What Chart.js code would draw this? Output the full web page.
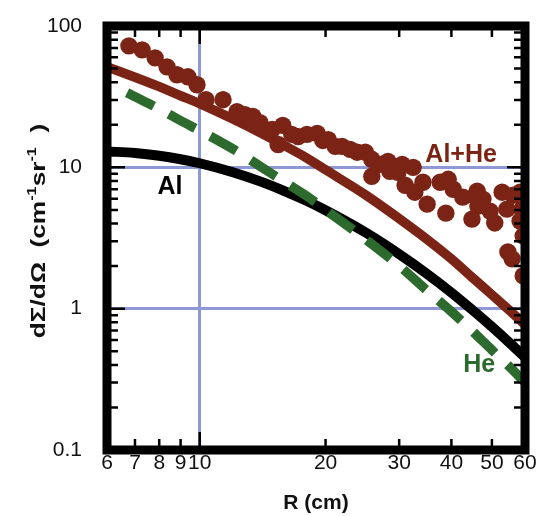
<!DOCTYPE html>
<html><head><meta charset="utf-8">
<script src="https://cdn.jsdelivr.net/npm/chart.js@4/dist/chart.umd.min.js"></script>
<style>html,body{margin:0;padding:0;background:#fff}#wrap{width:544px;height:516px}</style>
</head><body><div id="wrap"><canvas id="c" width="544" height="516"></canvas></div>
<script>
// ---- data ----
const R_MODEL = [6,7,8,9,10,12,14,16,18,20,25,30,35,40,45,50,55,60];
const AL      = [12.96,12.64,12.09,11.41,10.69,9.24,7.92,6.77,5.80,4.97,3.44,2.43,1.76,1.30,0.974,0.744,0.576,0.452];
const AL_HE   = [51.4,43.4,37.2,32.1,28.2,21.95,17.5,14.17,11.67,9.60,6.35,4.34,3.09,2.25,1.65,1.255,0.976,0.771];
const R_HE    = [6.7,7,8,9,10,12,14,16,18,20,25,30,35,40,45,50,55,60];
const HE      = [33.7,31.6,25.9,21.4,18.2,13.5,10.1,7.84,6.28,5.0,3.08,2.01,1.34,0.953,0.69,0.51,0.39,0.30];
const R_DATA  = [6.77,7.28,7.82,8.35,8.82,9.37,9.85,10.35,11.37,12.28,12.83,13.4,13.94,14.9,15.4,15.8,16.6,17.2,18.05,19.1,19.7,20.3,21.1,21.9,22.9,23.8,24.9,25.8,25.8,27.0,28.2,28.5,29.8,30.5,31.0,32.4,32.7,34.2,35.0,37.6,38.8,39.3,40.4,42.6,44.8,45.5,46.1,46.3,47.6,49.5,50.8,52.9,54.3,56.2,58.4,59.0,58.4,59.4,54.6,55.9,59.4];
const Y_DATA  = [72.3,67.8,59.5,51.4,45.2,43.7,38.4,30.1,30.1,24.8,23.6,22.9,20.7,18.5,14.5,19.8,17.1,16.5,17.1,17.4,15.5,15.7,14.06,14.06,13.4,12.8,12.8,11.4,8.64,10.5,11.0,9.37,9.22,10.5,7.47,10.0,6.67,7.84,5.49,7.84,4.74,8.23,7.0,6.15,4.30,6.25,6.78,5.31,5.96,4.90,4.04,6.67,5.06,6.35,6.67,5.06,4.17,3.27,2.52,2.25,1.71];
const X_TICKS = [6,7,8,9,10,20,30,40,50,60];
const Y_TICKS = [0.1,1,10,100];
const Y_MINOR = [0.2,0.3,0.4,0.5,0.6,0.7,0.8,0.9,2,3,4,5,6,7,8,9,20,30,40,50,60,70,80,90];
const X_GRID = [10];
const Y_GRID = [1,10];
const SERIES_LABELS = [
  {text:'Al+He', x:42.2, y:12.3, color:'#7b2416'},
  {text:'Al',    x:8.49, y:7.23, color:'#000000'},
  {text:'He',    x:46.6, y:0.397, color:'#2c6a2e'}
];

// ---- style ----
const RED = '#7b2416', GREEN = '#2c6a2e', BLUE = '#8d98d4';
const FAM = "'Liberation Sans', Arial, Helvetica, sans-serif";

const framePlugin = {
  id: 'frame',
  afterDatasetsDraw(chart) {
    const {ctx, chartArea: a, scales: {x, y}} = chart;
    ctx.save();
    ctx.strokeStyle = '#000';
    ctx.lineWidth = 2.5;
    ctx.beginPath();
    X_TICKS.slice(1, -1).forEach(v => {
      const px = x.getPixelForValue(v);
      const len = (v === 10) ? 18 : 11;
      ctx.moveTo(px, a.bottom); ctx.lineTo(px, a.bottom - len);
      ctx.moveTo(px, a.top); ctx.lineTo(px, a.top + len);
    });
    Y_MINOR.forEach(v => {
      const py = y.getPixelForValue(v);
      ctx.moveTo(a.left, py); ctx.lineTo(a.left + 11, py);
      ctx.moveTo(a.right, py); ctx.lineTo(a.right - 11, py);
    });
    Y_TICKS.slice(1, -1).forEach(v => {
      const py = y.getPixelForValue(v);
      ctx.moveTo(a.left, py); ctx.lineTo(a.left + 18, py);
      ctx.moveTo(a.right, py); ctx.lineTo(a.right - 18, py);
    });
    ctx.stroke();
    ctx.lineWidth = 9;
    ctx.strokeRect(a.left, a.top, a.right - a.left, a.bottom - a.top);
    ctx.font = 'bold 25px ' + FAM;
    ctx.textAlign = 'center';
    ctx.textBaseline = 'middle';
    SERIES_LABELS.forEach(l => {
      ctx.fillStyle = l.color;
      ctx.fillText(l.text, x.getPixelForValue(l.x), y.getPixelForValue(l.y));
    });
    ctx.restore();
  }
};

const yTitlePlugin = {
  id: 'yTitle',
  afterDraw(chart) {
    const ctx = chart.ctx;
    const segs = [
      {t: 'd\u03A3/d\u03A9  (cm', sup: false},
      {t: '-1', sup: true},
      {t: 'sr', sup: false},
      {t: '-1', sup: true},
      {t: '  )', sup: false}
    ];
    const mainF = 'bold 21px ' + FAM, supF = 'bold 13px ' + FAM;
    ctx.save();
    let W = 0;
    segs.forEach(s => { ctx.font = s.sup ? supF : mainF; s.w = ctx.measureText(s.t).width; W += s.w; });
    const S = 1.25;
    ctx.translate(45, 231);
    ctx.rotate(-Math.PI / 2);
    ctx.scale(S, 1);
    ctx.fillStyle = '#111';
    ctx.textBaseline = 'alphabetic';
    ctx.textAlign = 'left';
    let cx = -W / 2;
    segs.forEach(s => {
      ctx.font = s.sup ? supF : mainF;
      ctx.fillText(s.t, cx, s.sup ? -9 : 0);
      cx += s.w;
    });
    ctx.restore();
  }
};

new Chart(document.getElementById('c'), {
  data: {
    datasets: [
      {type: 'scatter', label: 'data', data: R_DATA.map((v, i) => ({x: v, y: Y_DATA[i]})),
       backgroundColor: RED, borderWidth: 0, pointRadius: 8.7, pointHoverRadius: 8.7, order: 0, clip: 0},
      {type: 'line', label: 'He', data: R_HE.map((v, i) => ({x: v, y: HE[i]})),
       borderColor: GREEN, borderWidth: 9.5, borderDash: [30, 17], pointRadius: 0, cubicInterpolationMode: 'monotone', order: 1, clip: 0},
      {type: 'line', label: 'Al+He', data: R_MODEL.map((v, i) => ({x: v, y: AL_HE[i]})),
       borderColor: RED, borderWidth: 9.5, pointRadius: 0, cubicInterpolationMode: 'monotone', order: 2, clip: 0},
      {type: 'line', label: 'Al', data: R_MODEL.map((v, i) => ({x: v, y: AL[i]})),
       borderColor: '#000', borderWidth: 10, pointRadius: 0, cubicInterpolationMode: 'monotone', order: 3, clip: 0}
    ]
  },
  options: {
    responsive: false,
    animation: false,
    events: [],
    layout: {padding: {left: 0, right: 19, top: 26, bottom: 0}},
    plugins: {legend: {display: false}, tooltip: {enabled: false}},
    scales: {
      x: {
        type: 'logarithmic', min: 6, max: 60, position: 'bottom',
        afterBuildTicks: s => { s.ticks = X_TICKS.map(v => ({value: v})); },
        afterFit: s => { s.height = 66; s.paddingLeft = 0; s.paddingRight = 0; },
        grid: {drawTicks: false, lineWidth: 3,
               color: c => (c.tick && X_GRID.includes(c.tick.value)) ? BLUE : 'rgba(0,0,0,0)'},
        border: {display: false},
        ticks: {autoSkip: false, maxRotation: 0, minRotation: 0, padding: 1, color: '#111',
                font: {family: FAM, size: 21}, callback: v => String(v)},
        title: {display: true, text: 'R (cm)', color: '#111', padding: 0,
                font: {family: FAM, size: 21, weight: 'bold'}}
      },
      y: {
        type: 'logarithmic', min: 0.1, max: 100, position: 'left',
        afterBuildTicks: s => { s.ticks = Y_TICKS.map(v => ({value: v})); },
        afterFit: s => { s.width = 107; s.paddingTop = 0; s.paddingBottom = 0; },
        grid: {drawTicks: false, lineWidth: 3,
               color: c => (c.tick && Y_GRID.includes(c.tick.value)) ? BLUE : 'rgba(0,0,0,0)'},
        border: {display: false},
        ticks: {autoSkip: false, padding: 25, color: '#111',
                font: {family: FAM, size: 21}, callback: v => String(v)}
      }
    }
  },
  plugins: [framePlugin, yTitlePlugin]
});
</script>
</body></html>
